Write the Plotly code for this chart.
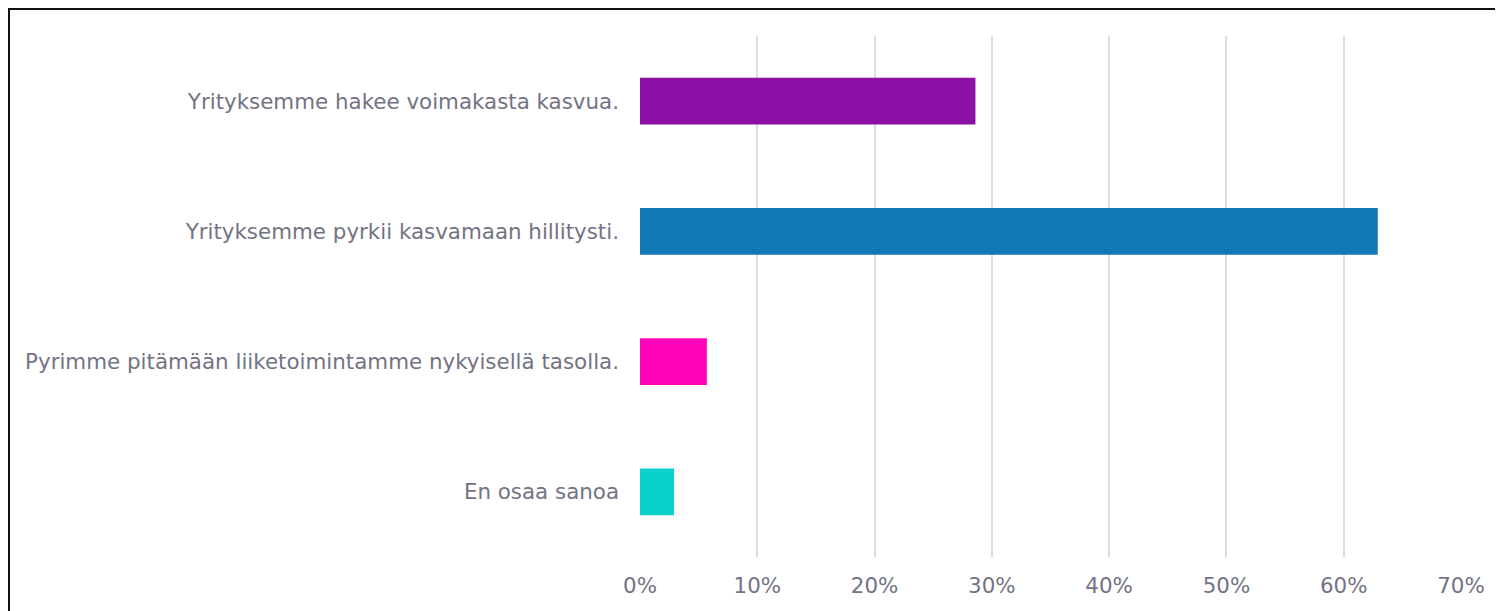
import plotly.graph_objects as go

categories = [
    "Yrityksemme hakee voimakasta kasvua.",
    "Yrityksemme pyrkii kasvamaan hillitysti.",
    "Pyrimme pitämään liiketoimintamme nykyisellä tasolla.",
    "En osaa sanoa",
]
shares = [0.286, 0.629, 0.057, 0.029]
bar_colors = ["#8c0fa6", "#1278b3", "#ff03b8", "#0bd1cd"]
tick_vals = [0, 0.1, 0.2, 0.3, 0.4, 0.5, 0.6, 0.7]

W, H = 1503, 611
ml, mr, mt, mb = 632, 50, 28, 62

fig = go.Figure(go.Bar(
    x=shares, y=categories,
    orientation="h",
    marker=dict(color=bar_colors, line=dict(width=0)),
    hoverinfo="x+y",
))

pw = W - ml - mr
ph = H - mt - mb

fig.update_layout(
    width=W, height=H,
    margin=dict(l=ml, r=mr, t=mt, b=mb, pad=0),
    paper_bgcolor="white",
    plot_bgcolor="white",
    bargap=0.64,
    showlegend=False,
    font=dict(family="DejaVu Sans, Verdana, sans-serif", size=21.4, color="#737384"),
    xaxis=dict(
        range=[0, 0.7],
        tickvals=tick_vals,
        tickformat=".0%",
        showgrid=True,
        gridcolor="#dcdcdf",
        gridwidth=2,
        zeroline=False,
        showline=False,
        ticks="",
        ticklabelstandoff=14,
    ),
    yaxis=dict(
        autorange="reversed",
        showgrid=False,
        zeroline=False,
        showline=False,
        ticks="",
        ticklabelstandoff=20,
    ),
    # black frame along the figure edge
    shapes=[dict(
        type="rect", xref="paper", yref="paper",
        x0=(0.5 - ml) / pw, x1=(W + 10 - ml) / pw,
        y0=-(mb + 10) / ph, y1=(ph + mt - 0.5) / ph,
        line=dict(color="#111111", width=3),
        fillcolor="rgba(0,0,0,0)",
        layer="above",
    )],
)

fig.write_html("out.html")
